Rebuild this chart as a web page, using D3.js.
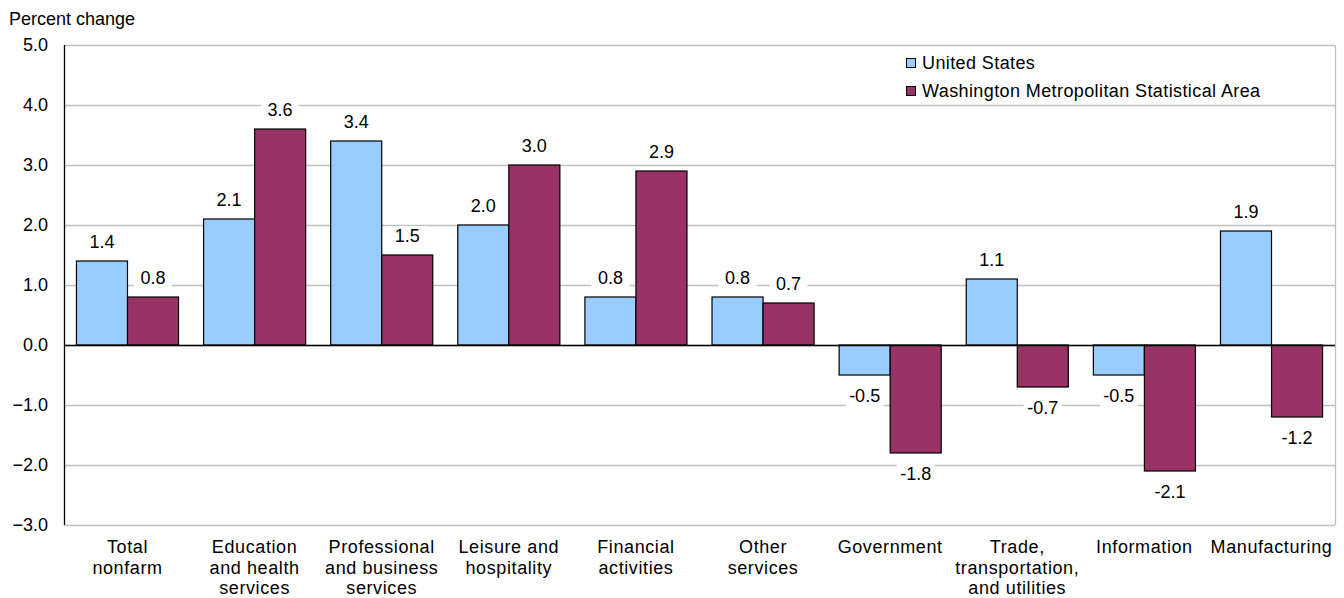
<!DOCTYPE html>
<html>
<head>
<meta charset="utf-8">
<title>Percent change by industry</title>
<script src="https://d3js.org/d3.v7.min.js"></script>
<style>
body { margin: 0; background: #fff; }
text { font-family: "Liberation Sans", Arial, sans-serif; fill: #000; font-size: 18px; }
.grid line { stroke: #c0c0c0; stroke-width: 1.3; }
</style>
</head>
<body>
<svg id="chart" width="1344" height="598"></svg>
<script>
// data
const categories = [
  ["Total", "nonfarm"],
  ["Education", "and health", "services"],
  ["Professional", "and business", "services"],
  ["Leisure and", "hospitality"],
  ["Financial", "activities"],
  ["Other", "services"],
  ["Government"],
  ["Trade,", "transportation,", "and utilities"],
  ["Information"],
  ["Manufacturing"]
];
const usValues = [1.4, 2.1, 3.4, 2.0, 0.8, 0.8, -0.5, 1.1, -0.5, 1.9];
const wmsaValues = [0.8, 3.6, 1.5, 3.0, 2.9, 0.7, -1.8, -0.7, -2.1, -1.2];
const seriesNames = ["United States", "Washington Metropolitan Statistical Area"];
const seriesColors = ["#99ccff", "#993366"];
const yTicks = [5, 4, 3, 2, 1, 0, -1, -2, -3];

const svg = d3.select("#chart");
const plotL = 64, plotR = 1335, plotT = 45, plotB = 525;

const x = d3.scaleBand()
  .domain(d3.range(categories.length))
  .range([plotL, plotR])
  .paddingInner(0.197)
  .paddingOuter(0.098);
const x1 = d3.scaleBand().domain([0, 1]).range([0, x.bandwidth()]);
const y = d3.scaleLinear().domain([-3, 5]).range([plotB, plotT]);

// gridlines
svg.append("g").attr("class", "grid")
  .selectAll("line").data(yTicks).join("line")
  .attr("x1", plotL).attr("x2", plotR)
  .attr("y1", d => Math.round(y(d)) + 0.5).attr("y2", d => Math.round(y(d)) + 0.5);
svg.append("line")
  .attr("x1", plotR + 0.5).attr("x2", plotR + 0.5)
  .attr("y1", plotT).attr("y2", plotB)
  .attr("stroke", "#c0c0c0").attr("stroke-width", 1.3);

// y axis
const yAxis = d3.axisLeft(y).tickValues(yTicks).tickFormat(d3.format(".1f")).tickSize(0).tickPadding(16);
const ya = svg.append("g").attr("transform", `translate(${plotL},0)`).call(yAxis);
ya.select(".domain").remove();
ya.selectAll("text").style("font-size", "18px").attr("font-family", null);
svg.append("line")
  .attr("x1", plotL + 0.5).attr("x2", plotL + 0.5)
  .attr("y1", plotT).attr("y2", plotB)
  .attr("stroke", "#000").attr("stroke-width", 1.3);

svg.append("text").attr("x", 9).attr("y", 25).text("Percent change");

// bars + labels
const rows = [];
categories.forEach((c, i) => {
  rows.push({ i, s: 0, v: usValues[i] });
  rows.push({ i, s: 1, v: wmsaValues[i] });
});

const labels = svg.append("g");
rows.forEach(r => {
  const bx = x(r.i) + x1(r.s);
  const cx = bx + x1.bandwidth() / 2;
  const ly = r.v >= 0 ? y(r.v) - 13 : y(r.v) + 27;
  const t = r.v.toFixed(1);
  labels.append("rect")
    .attr("x", cx - 19).attr("y", ly - 16)
    .attr("width", 38).attr("height", 21)
    .attr("fill", "#fff");
  labels.append("text")
    .attr("x", cx).attr("y", ly)
    .attr("text-anchor", "middle")
    .text(t);
});

svg.append("g").selectAll("rect").data(rows).join("rect")
  .attr("x", d => x(d.i) + x1(d.s))
  .attr("y", d => y(Math.max(0, d.v)))
  .attr("width", x1.bandwidth())
  .attr("height", d => Math.abs(y(d.v) - y(0)))
  .attr("fill", d => seriesColors[d.s])
  .attr("stroke", "#000")
  .attr("stroke-width", 1.2);

// zero line
svg.append("line")
  .attr("x1", plotL).attr("x2", plotR)
  .attr("y1", y(0) + 0.5).attr("y2", y(0) + 0.5)
  .attr("stroke", "#000").attr("stroke-width", 1.3);

// category labels
const cat = svg.append("g");
categories.forEach((lines, i) => {
  const t = cat.append("text")
    .attr("x", x(i) + x.bandwidth() / 2)
    .attr("y", 553)
    .attr("text-anchor", "middle")
    .style("letter-spacing", "0.6px");
  lines.forEach((l, k) => {
    t.append("tspan").attr("x", x(i) + x.bandwidth() / 2)
      .attr("dy", k === 0 ? 0 : 20.5).text(l);
  });
});

// legend
const legend = svg.append("g").attr("transform", "translate(906,58)");
seriesNames.forEach((n, k) => {
  const g = legend.append("g").attr("transform", `translate(0,${k * 28})`);
  g.append("rect").attr("x", 0.5).attr("y", 0.5).attr("width", 9).attr("height", 9)
    .attr("fill", seriesColors[k]).attr("stroke", "#000").attr("stroke-width", 1);
  g.append("text").attr("x", 16).attr("y", 11).style("letter-spacing", "0.4px").text(n);
});
</script>
</body>
</html>
